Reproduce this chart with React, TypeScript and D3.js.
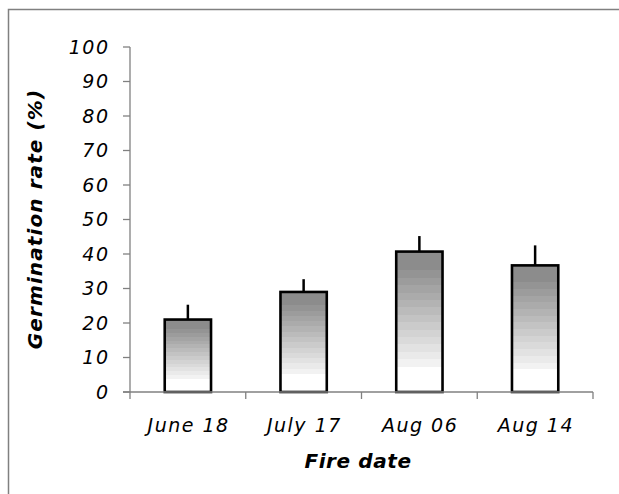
import React from "react";
import * as d3 from "d3";

const categories = ["June 18", "July 17", "Aug 06", "Aug 14"];
const means = [21, 29, 40.7, 36.7];
const errors = [4.3, 3.7, 4.5, 5.8];
const yTicks = [0, 10, 20, 30, 40, 50, 60, 70, 80, 90, 100];

const W = 619;
const H = 494;
const M = { left: 130, right: 593, top: 47, bottom: 392 };

export default function App() {
  const x = d3.scaleBand<string>().domain(categories).range([M.left, M.right]).paddingInner(0.6).paddingOuter(0.3);
  const band = d3.scaleBand<string>().domain(categories).range([M.left, M.right]);
  const y = d3.scaleLinear().domain([0, 100]).range([M.bottom, M.top]);

  // stepped gradient stops
  const nSteps = 14;
  const stops: { off: number; color: string }[] = [];
  const c0 = d3.rgb(140, 140, 140);
  const c1 = d3.rgb(242, 242, 242);
  const gStart = 0.08;
  const gEnd = 0.82;
  stops.push({ off: 0, color: c0.formatHex() });
  for (let i = 0; i < nSteps; i++) {
    const a = gStart + ((gEnd - gStart) * i) / nSteps;
    const b = gStart + ((gEnd - gStart) * (i + 1)) / nSteps;
    const col = d3.interpolateRgb(c0, c1)(i / (nSteps - 1));
    stops.push({ off: a, color: d3.rgb(col).formatHex() });
    stops.push({ off: b, color: d3.rgb(col).formatHex() });
  }
  stops.push({ off: gEnd, color: "#ffffff" });
  stops.push({ off: 1, color: "#ffffff" });

  const font = "'DejaVu Sans', Verdana, sans-serif";
  const bw = x.bandwidth();
  const tickLs = 1.5;

  return (
    <svg width={W} height={H} style={{ position: "absolute", left: 0, top: 0 }}>
      <defs>
        <linearGradient id="barGrad" x1="0" y1="0" x2="0" y2="1">
          {stops.map((s, i) => (
            <stop key={i} offset={s.off} stopColor={s.color} />
          ))}
        </linearGradient>
      </defs>
      <rect x={0} y={0} width={W} height={H} fill="#fff" />
      <rect x={8.5} y={9.5} width={640} height={520} fill="#fff" stroke="#808080" strokeWidth={1.5} />

      {/* y axis */}
      <line x1={M.left} x2={M.left} y1={y(100)} y2={M.bottom} stroke="#808080" strokeWidth={1.3} />
      {yTicks.map((t) => (
        <g key={t}>
          <line x1={M.left - 7} x2={M.left} y1={y(t)} y2={y(t)} stroke="#808080" strokeWidth={1.3} />
          <text
            x={108 + tickLs}
            y={y(t)}
            dy="0.36em"
            textAnchor="end"
            fontFamily={font}
            fontStyle="italic"
            fontSize={19}
            letterSpacing={tickLs}
            fill="#000"
          >
            {t}
          </text>
        </g>
      ))}

      {/* bars */}
      {categories.map((c, i) => {
        const cx = (x(c) as number) + bw / 2;
        return (
          <g key={c}>
            <line x1={cx} x2={cx} y1={y(means[i])} y2={y(means[i] + errors[i])} stroke="#000" strokeWidth={2.5} />
            <rect
              x={x(c)}
              y={y(means[i])}
              width={bw}
              height={M.bottom - y(means[i])}
              fill="url(#barGrad)"
              stroke="#000"
              strokeWidth={2.6}
            />
          </g>
        );
      })}

      {/* x axis */}
      <line x1={M.left - 7} x2={M.right} y1={M.bottom} y2={M.bottom} stroke="#808080" strokeWidth={1.3} />
      {categories.map((c) => (
        <line key={"t" + c} x1={band(c)} x2={band(c)} y1={M.bottom} y2={M.bottom + 7} stroke="#808080" strokeWidth={1.3} />
      ))}
      <line x1={M.right} x2={M.right} y1={M.bottom} y2={M.bottom + 7} stroke="#808080" strokeWidth={1.3} />
      {categories.map((c) => (
        <text
          key={"l" + c}
          x={(band(c) as number) + band.bandwidth() / 2 + tickLs / 2}
          y={432}
          textAnchor="middle"
          fontFamily={font}
          fontStyle="italic"
          fontSize={19}
          letterSpacing={tickLs}
          fill="#000"
        >
          {c}
        </text>
      ))}

      <text
        x={358}
        y={468}
        textAnchor="middle"
        fontFamily={font}
        fontStyle="italic"
        fontWeight="bold"
        fontSize={20}
        letterSpacing={0.6}
        fill="#000"
      >
        Fire date
      </text>
      <text
        transform={`translate(42, 219) rotate(-90)`}
        textAnchor="middle"
        fontFamily={font}
        fontStyle="italic"
        fontWeight="bold"
        fontSize={20}
        letterSpacing={1.1}
        fill="#000"
      >
        Germination rate (%)
      </text>
    </svg>
  );
}
